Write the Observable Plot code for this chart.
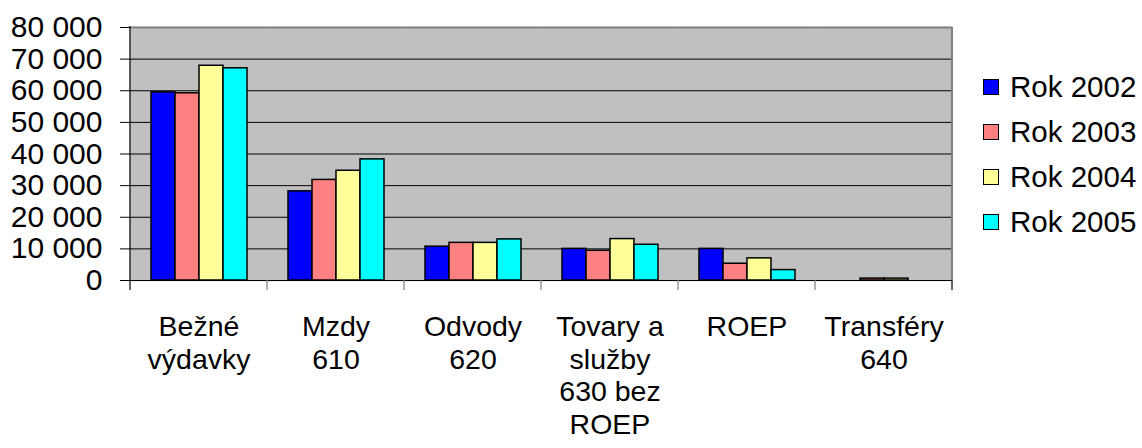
<!DOCTYPE html>
<html>
<head>
<meta charset="utf-8">
<script src="https://cdn.jsdelivr.net/npm/d3@7"></script>
<script src="https://cdn.jsdelivr.net/npm/@observablehq/plot@0.6"></script>
<style>
  html, body { margin: 0; padding: 0; background: #fff; }
  #wrap { position: relative; width: 1142px; height: 448px; font-family: "Liberation Sans", Arial, sans-serif; }
  #legend { position: absolute; left: 983px; top: 64px; }
  .row { display: flex; align-items: center; height: 45px; font-size: 29.5px; color: #000; }
  .sw { width: 14px; height: 14px; border: 1.5px solid #000; margin-right: 11px; }
</style>
</head>
<body>
<div id="wrap"></div>
<script>
// ---- data ----
const categories = ["Bežné\nvýdavky", "Mzdy\n610", "Odvody\n620", "Tovary a\nslužby\n630 bez\nROEP", "ROEP", "Transféry\n640"];
const years = ["Rok 2002", "Rok 2003", "Rok 2004", "Rok 2005"];
const rok2002 = [59500, 28200, 10700, 10000, 10000, null];
const rok2003 = [59200, 31800, 11900, 9400, 5300, 600];
const rok2004 = [67900, 34700, 11900, 13100, 7000, 600];
const rok2005 = [67100, 38300, 13000, 11300, 3300, null];
const yTicks = [0, 10000, 20000, 30000, 40000, 50000, 60000, 70000, 80000];

// ---- styles ----
const colors = ["#0000FF", "#FF8080", "#FFFF99", "#00FFFF"];

const series = [rok2002, rok2003, rok2004, rok2005];
const data = [];
categories.forEach((c, i) => series.forEach((s, j) => {
  if (s[i] != null) data.push({category: c, year: years[j], value: s[i]});
}));

const fmt = d => d3.format(",")(d).replace(/,/g, " ");

const chart = Plot.plot({
  width: 1142,
  height: 448,
  marginLeft: 128,
  marginRight: 189,
  marginTop: 27,
  marginBottom: 168,
  style: {fontFamily: "Liberation Sans, Arial, sans-serif", color: "#000", background: "#fff", overflow: "visible"},
  fx: {domain: categories, padding: 0, axis: null, label: null},
  x: {domain: years, paddingInner: 0, paddingOuter: 0.75, axis: null},
  y: {domain: [0, 80000], axis: null},
  color: {domain: years, range: colors},
  marks: [
    Plot.frame({fill: "#C0C0C0", stroke: "#C0C0C0", strokeWidth: 1.5}),
    Plot.gridY(yTicks, {stroke: "#000", strokeOpacity: 1, strokeWidth: 1}),
    Plot.ruleY([80000], {stroke: "#808080", strokeWidth: 2}),
    Plot.barY(data, {fx: "category", x: "year", y: "value", fill: "year", stroke: "#000", strokeWidth: 1.5, inset: 0}),
    Plot.ruleY([0], {stroke: "#000", strokeWidth: 1.2}),
    Plot.axisY(yTicks, {tickSize: 10, tickPadding: 18, tickFormat: fmt, fontSize: 30, label: null, stroke: "#000"}),
    Plot.axisFx({anchor: "bottom", tickSize: 0, tickPadding: 32, lineHeight: 1.15, fontSize: 28.5, label: null})
  ]
});

document.getElementById("wrap").appendChild(chart);

// decorations from the library's scales: axis line, right edge, category boundary ticks
const fx = chart.scale("fx");
const ys = chart.scale("y");
const svg = d3.select(chart);
const left = fx.apply(categories[0]);
const right = fx.apply(categories[categories.length - 1]) + fx.bandwidth;
const y0 = ys.apply(0), yTop = ys.apply(80000);
const g = svg.append("g");
g.append("rect").attr("x", right + 1).attr("y", yTop - 3).attr("width", 6).attr("height", y0 - yTop + 6).attr("fill", "#fff");
g.append("line").attr("x1", right).attr("x2", right).attr("y1", yTop).attr("y2", y0)
  .attr("stroke", "#808080").attr("stroke-width", 2);
g.append("line").attr("x1", left).attr("x2", left).attr("y1", yTop - 1).attr("y2", y0 + 10)
  .attr("stroke", "#000").attr("stroke-width", 1.2);
categories.forEach((c, i) => {
  const xb = fx.apply(c) + fx.bandwidth;
  g.append("line").attr("x1", xb).attr("x2", xb).attr("y1", y0).attr("y2", y0 + 10)
    .attr("stroke", i === categories.length - 1 ? "#000" : "#808080").attr("stroke-width", 1.2);
});

// legend
const legend = d3.select("#wrap").append("div").attr("id", "legend");
years.forEach((yr, j) => {
  const row = legend.append("div").attr("class", "row");
  row.append("div").attr("class", "sw").style("background", chart.scale("color").apply(yr));
  row.append("span").text(yr);
});
</script>
</body>
</html>
